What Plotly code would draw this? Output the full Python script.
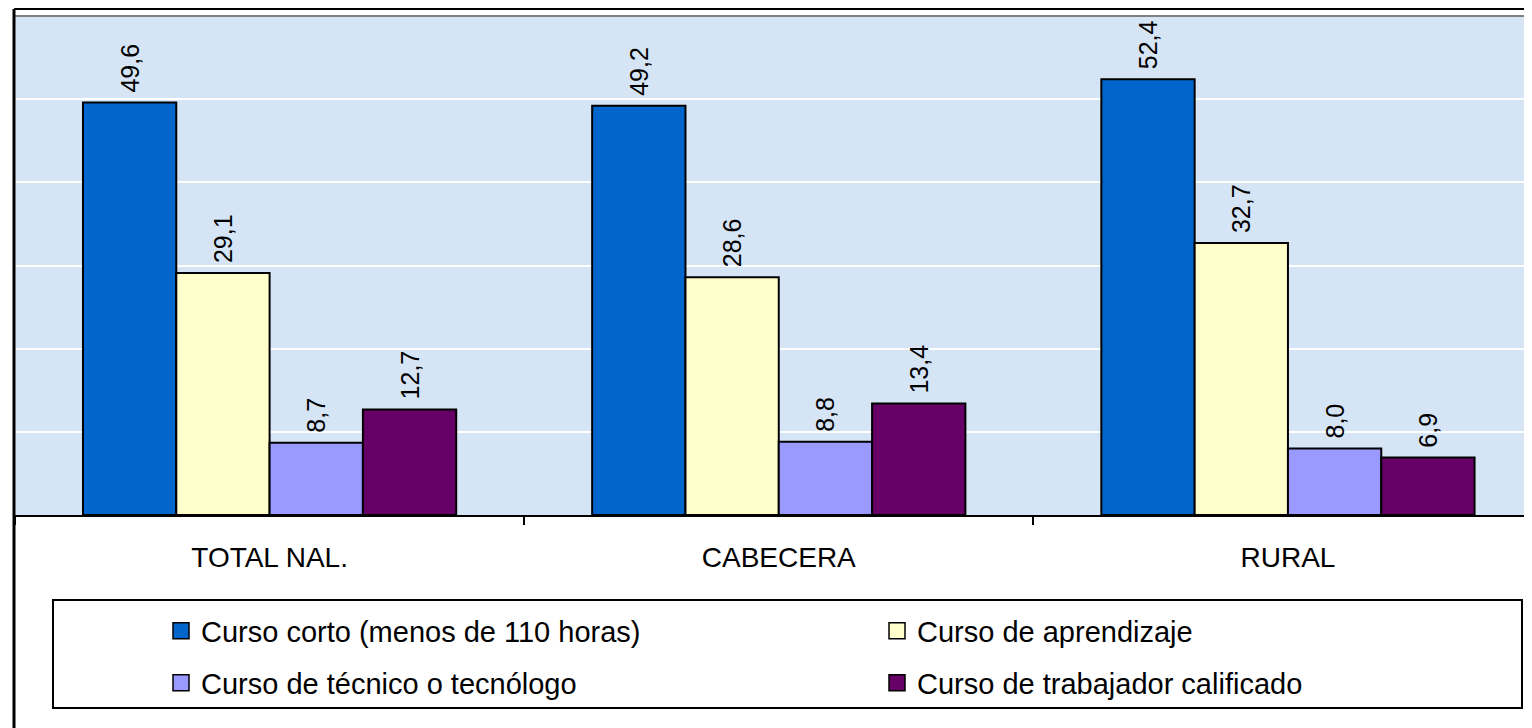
import plotly.graph_objects as go

categories = ["TOTAL NAL.", "CABECERA", "RURAL"]
series_names = [
    "Curso corto (menos de 110 horas)",
    "Curso de aprendizaje",
    "Curso de técnico o tecnólogo",
    "Curso de trabajador calificado",
]
curso_corto = [49.6, 49.2, 52.4]
curso_aprendizaje = [29.1, 28.6, 32.7]
curso_tecnico = [8.7, 8.8, 8.0]
curso_trabajador = [12.7, 13.4, 6.9]
colors = ["#0066CC", "#FFFFCC", "#9999FF", "#660066"]

W, H = 1532, 728
OFF = 8  # the page body margin shifts the figure by 8px
L, R, T, B = 15 - OFF, 0, 16 - OFF, 728 - (515 - OFF)
FONT = "Liberation Sans, Arial, sans-serif"


# convert pixel positions (as seen in the page) to paper coordinates
def px_x(px):
    return (px - OFF - L) / (W - L - R)


def px_y(py):
    return (H - B - (py - OFF)) / (H - T - B)


fig = go.Figure()
all_values = [curso_corto, curso_aprendizaje, curso_tecnico, curso_trabajador]
for name, values, color in zip(series_names, all_values, colors):
    fig.add_trace(go.Bar(
        x=categories, y=values, name=name, showlegend=False,
        marker=dict(color=color, line=dict(color="black", width=2)),
        texttemplate="\u00a0%{y:.1f}", textposition="outside", textangle=-90,
        textfont=dict(family=FONT, size=25, color="black"),
        cliponaxis=False,
    ))

# legend entries: one small legend per entry, 2 rows x 2 columns
legend_spots = [(161, 631), (877, 631), (161, 683), (877, 683)]
legend_ids = ["legend", "legend2", "legend3", "legend4"]
for name, color, lid in zip(series_names, colors, legend_ids):
    fig.add_trace(go.Scatter(
        x=[None], y=[None], mode="markers", name=name, legend=lid,
        marker=dict(symbol="square", size=16, color=color, line=dict(color="black", width=1.5)),
    ))

legend_style = dict(
    orientation="h", xanchor="left", yanchor="middle",
    bgcolor="rgba(0,0,0,0)", borderwidth=0,
    font=dict(family=FONT, size=29, color="black"),
)
legends = {
    lid: dict(x=px_x(lx), y=px_y(ly), **legend_style)
    for lid, (lx, ly) in zip(legend_ids, legend_spots)
}

fig.update_layout(
    width=W, height=H,
    margin=dict(l=L, r=R, t=T, b=B),
    paper_bgcolor="white", plot_bgcolor="#D6E5F6",
    separators=", ",
    barmode="group", bargap=0.267, bargroupgap=0,
    font=dict(family=FONT, color="black"),
    xaxis=dict(
        type="category", range=[-0.5, 2.495],
        showline=True, linecolor="black", linewidth=2,
        ticks="outside", tickson="boundaries", ticklen=8, tickwidth=2, tickcolor="black",
        tickfont=dict(family=FONT, size=28, color="black"), ticklabelstandoff=16,
        showgrid=False,
    ),
    yaxis=dict(
        range=[0, 60], dtick=10, showticklabels=False,
        showgrid=True, gridcolor="white", gridwidth=2,
        showline=True, linecolor="black", linewidth=2,
        zeroline=False,
    ),
    shapes=[
        # plot area top edge
        dict(type="line", xref="paper", yref="paper", x0=0, x1=1, y0=1, y1=1,
             line=dict(color="#808080", width=2)),
        # outer chart border (top and left)
        dict(type="line", xref="paper", yref="paper", x0=px_x(14), x1=1.02, y0=px_y(9), y1=px_y(9),
             line=dict(color="black", width=2)),
        dict(type="line", xref="paper", yref="paper", x0=px_x(14), x1=px_x(14), y0=px_y(9), y1=px_y(760),
             line=dict(color="black", width=3)),
        # legend box
        dict(type="rect", xref="paper", yref="paper", x0=px_x(53), x1=px_x(1522), y0=px_y(708), y1=px_y(600),
             line=dict(color="black", width=2)),
    ],
    **legends,
)

fig.write_html("out.html")
